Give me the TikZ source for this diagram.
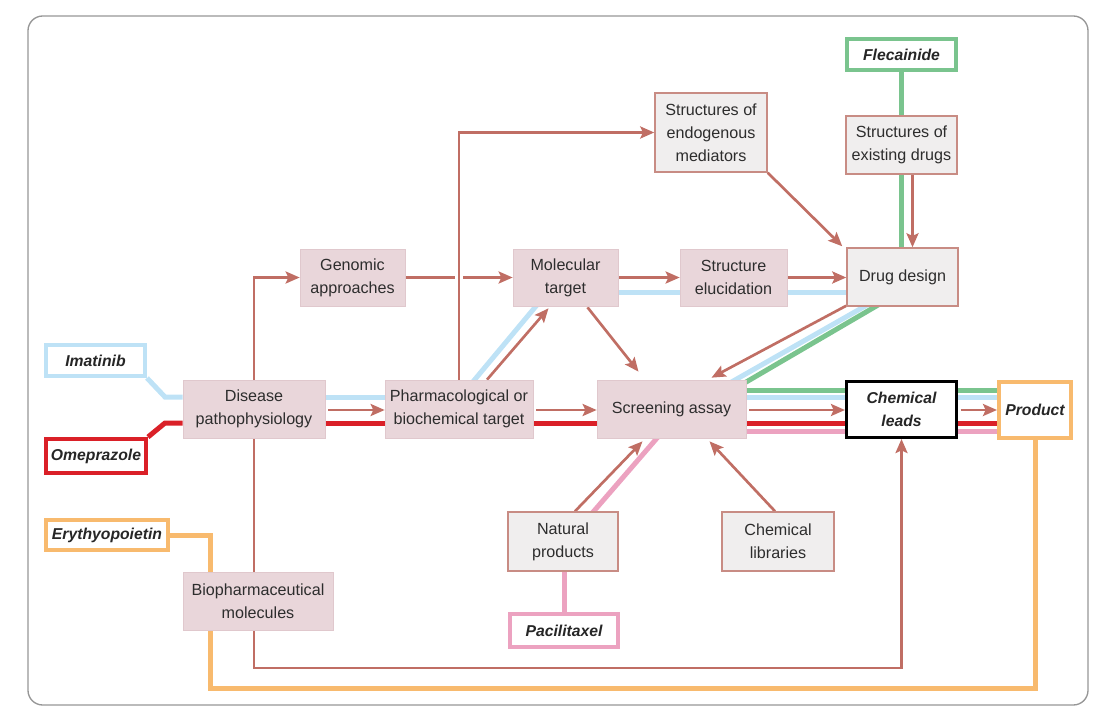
\documentclass[tikz,border=0pt]{standalone}
\usepackage{fontspec}
\setmainfont{Liberation Sans}
\usetikzlibrary{arrows.meta,backgrounds,calc}
\definecolor{arr}{RGB}{192,110,100}
\definecolor{boxpink}{RGB}{233,214,218}
\definecolor{boxpinkd}{RGB}{224,200,205}
\definecolor{boxgray}{RGB}{240,238,238}
\definecolor{boxgrayd}{RGB}{200,140,132}
\definecolor{txt}{RGB}{45,45,45}
\definecolor{cblue}{RGB}{190,226,246}
\definecolor{cred}{RGB}{218,32,40}
\definecolor{cgreen}{RGB}{122,196,142}
\definecolor{cpink}{RGB}{236,162,192}
\definecolor{corange}{RGB}{248,186,110}
\definecolor{framec}{RGB}{150,150,150}
\begin{document}
\begin{tikzpicture}[x=0.75pt,y=-0.75pt,
  font=\fontsize{12.1}{17.3}\selectfont,
  sz/.style 2 args={minimum width=#1*0.75pt, minimum height=#2*0.75pt},
  pbox/.style={fill=boxpink, draw=boxpinkd, line width=0.5pt, text=txt, align=center, inner sep=0pt},
  gbox/.style={fill=boxgray, draw=boxgrayd, line width=1.1pt, text=txt, align=center, inner sep=0pt},
  dbox/.style={fill=white, line width=3pt, font=\fontsize{11.8}{17.3}\selectfont\bfseries\itshape, align=center, inner sep=0pt, text=black!85},
  cl/.style={line width=3.75pt},
  ar/.style={draw=arr, line width=2pt, -{Stealth[length=10.5pt,width=9pt,inset=2pt]}},
  ln/.style={draw=arr, line width=2pt}]
\useasboundingbox (0,0) rectangle (1114,725);

% nodes
\node[dbox, draw=cblue, sz={99}{31}] (imatinib) at (95.5,360.5) {Imatinib};
\node[dbox, draw=cred, sz={100}{34}] (omep) at (96,456) {Omeprazole};
\node[dbox, draw=corange, sz={122}{30}] (eryth) at (107,535) {Erythyopoietin};
\node[pbox, sz={142}{58}] (disease) at (254,409) {Disease\\pathophysiology};
\node[pbox, sz={105}{57}] (genomic) at (352.5,277.5) {Genomic\\approaches};
\node[pbox, sz={148}{58}] (pharma) at (459,409) {Pharmacological or\\biochemical target};
\node[pbox, sz={105}{57}] (molecular) at (565.5,277.5) {Molecular\\target};
\node[pbox, sz={107}{57}] (struct) at (733.5,277.5) {Structure\\elucidation};
\node[gbox, sz={112}{79}] (endog) at (711,132.5) {Structures of\\endogenous\\mediators};
\node[gbox, sz={111}{58}] (drug) at (902.5,277) {Drug design};
\node[gbox, sz={111}{58}] (existing) at (901.5,145) {Structures of\\existing drugs};
\node[dbox, draw=cgreen, sz={109}{31}] (flec) at (901.5,54.5) {Flecainide};
\node[pbox, sz={149}{58}] (screen) at (671.5,409) {Screening assay};
\node[dbox, draw=black, line width=2.3pt, sz={110}{56}] (leads) at (901.5,409.5) {Chemical\\leads};
\node[dbox, draw=corange, sz={72}{56}] (product) at (1035,410) {Product};
\node[gbox, sz={110}{59}] (natural) at (563,541.5) {Natural\\products};
\node[gbox, sz={112}{59}] (chemlib) at (778,541.5) {Chemical\\libraries};
\node[dbox, draw=cpink, sz={108}{33}] (pacil) at (564,630.5) {Pacilitaxel};
\node[pbox, sz={150}{58}] (biopharm) at (258,601) {Biopharmaceutical\\molecules};

\coordinate (gL) at (0,390);
\coordinate (bL) at (0,397);
\coordinate (aL) at (0,410);
\coordinate (rL) at (0,423);
\coordinate (pL) at (0,431);
\coordinate (bU) at (0,292);
\coordinate (dbot) at (0,668);
\coordinate (o1) at (210,688);
\coordinate (ibend) at (165,397);
\coordinate (obend) at (165,423);

\begin{pgfonlayer}{background}
% frame
\draw[framec, line width=1pt, rounded corners=11pt] (28,16) rectangle (1088,705);

% orange
\draw[cl, corange] (eryth.east) -| (o1) -| (product.south);

% blue
\draw[cl, cblue] (imatinib.south east) -- (ibend) -- (disease.west |- bL);
\draw[cl, cblue] (disease.east |- bL) -- (pharma.west |- bL);
\draw[cl, cblue] ($(pharma.north)+(14,2)$) -- ($(molecular.south)+(-28,-2)$);
\draw[cl, cblue] (molecular.east |- bU) -- (struct.west |- bU);
\draw[cl, cblue] (struct.east |- bU) -- (drug.west |- bU);
\draw[cl, cblue] ($(drug.south)+(-35,-2)$) -- ($(screen.north east)+(-16,3)$);
\draw[cl, cblue] (screen.east |- bL) -- (leads.west |- bL);
\draw[cl, cblue] (leads.east |- bL) -- (product.west |- bL);

% green
\draw[cl, cgreen] (flec.south) -- (existing.north);
\draw[cl, cgreen] (existing.south) -- (existing.south |- drug.north);
\draw[cl, cgreen] ($(drug.south)+(-24,-2)$) -- ($(screen.north east)+(-3,4)$);
\draw[cl, cgreen] (screen.east |- gL) -- (leads.west |- gL);
\draw[cl, cgreen] (leads.east |- gL) -- (product.west |- gL);

% red
\draw[cl, cred] (omep.north east) -- (obend) -- (disease.west |- rL);
\draw[cl, cred] (disease.east |- rL) -- (pharma.west |- rL);
\draw[cl, cred] (pharma.east |- rL) -- (screen.west |- rL);
\draw[cl, cred] (screen.east |- rL) -- (leads.west |- rL);
\draw[cl, cred] (leads.east |- rL) -- (product.west |- rL);

% pink
\draw[cl, cpink] (pacil.north) -- (pacil.north |- natural.south);
\draw[cl, cpink] ($(natural.north)+(29,2)$) -- ($(screen.south)+(-13,-2)$);
\draw[cl, cpink] (screen.east |- pL) -- (leads.west |- pL);
\draw[cl, cpink] (leads.east |- pL) -- (product.west |- pL);

% brown arrows
\draw[ar] (genomic.east) -- (molecular.west);
\draw[white, line width=5pt] ($(pharma.north |- genomic.east)+(-4,0)$) -- ($(pharma.north |- genomic.east)+(4,0)$);
\draw[ar] (pharma.north) |- (endog.west);
\draw[ar] (disease.north) |- (genomic.west);
\draw[ar] (disease.south) -- (disease.south |- dbot) -| (leads.south);
\draw[ar] (molecular.east) -- (struct.west);
\draw[ar] (struct.east) -- (struct.east -| drug.west);
\draw[ar] (endog.south east) -- ($(drug.north west)+(-4,-1)$);
\draw[ar] ($(existing.south)+(11,0)$) -- ($(existing.south |- drug.north)+(11,0)$);
\draw[ar] ($(pharma.north)+(28,0)$) -- ($(molecular.south)+(-17,2)$);
\draw[ar] ($(molecular.south)+(22,1)$) -- ($(screen.north)+(-33,-8)$);
\draw[ar] ($(drug.south west)+(0,-1)$) -- ($(screen.north)+(40,-2)$);
\draw[ar, shorten <=2pt] (disease.east |- aL) -- (pharma.west |- aL);
\draw[ar, shorten <=2pt] (pharma.east |- aL) -- (screen.west |- aL);
\draw[ar, shorten <=2pt] (screen.east |- aL) -- (leads.west |- aL);
\draw[ar, shorten <=2pt] (leads.east |- aL) -- (product.west |- aL);
\draw[ar] ($(natural.north)+(12,0)$) -- ($(screen.south)+(-29,3)$);
\draw[ar] ($(chemlib.north)+(-3,0)$) -- ($(screen.south)+(38,3)$);
\end{pgfonlayer}
\end{tikzpicture}
\end{document}
